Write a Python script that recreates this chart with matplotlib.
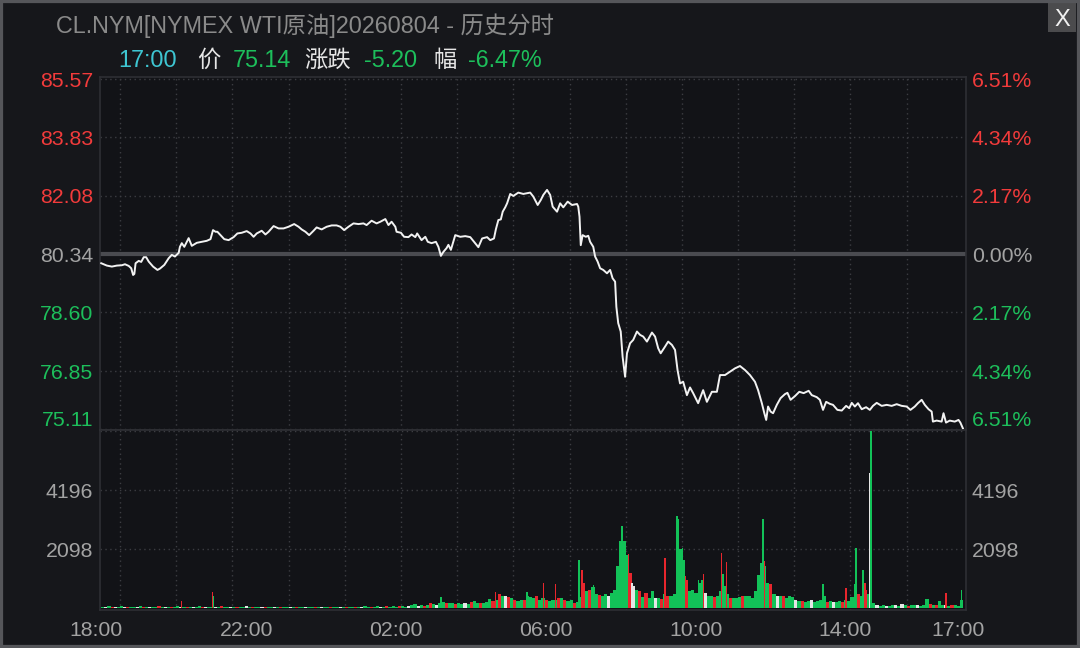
import matplotlib
matplotlib.use("Agg")
import matplotlib.pyplot as plt
import matplotlib.transforms as mtransforms
from matplotlib.patches import Rectangle

plt.rcParams['font.family'] = ['Liberation Sans', 'Noto Sans CJK SC', 'DejaVu Sans']

# ---- data: minutes after 18:00, price ----
times = [0, 9, 17, 25, 33, 38, 44, 48, 51, 53, 55, 60, 64, 68, 72, 76, 83, 90, 94, 101,
         108, 113, 118, 124, 126, 129, 133, 140, 145, 153, 161, 169, 175, 179, 183, 186, 191, 197, 204, 212,
         218, 225, 233, 239, 244, 249, 257, 263, 268, 276, 284, 292, 300, 309, 316, 321, 327, 333, 340, 345,
         353, 361, 369, 377,
         383, 389, 396, 404, 412, 420, 425, 433, 441, 447, 455, 460, 465, 471, 473, 480, 485, 492, 497, 503,
         506, 513, 519, 523, 529, 536, 540, 544, 548, 553, 556, 560, 567, 575, 583, 591, 597, 604, 610, 618,
         623, 629, 632, 636, 640, 643, 647, 650, 655, 660, 668, 676, 687, 692, 699, 704, 708, 714, 719, 723,
         730, 735, 740, 747, 754, 762, 764,
         766, 768, 771, 776, 780, 783, 788, 791, 795, 799, 804, 810, 815, 819, 823, 825, 828, 832, 835, 839,
         842, 847, 852, 858, 863, 868, 874, 882, 887, 892, 896, 903, 908, 914, 919, 923, 927, 932, 938, 943,
         948, 956, 964, 970, 978, 986, 991, 999, 1007, 1015, 1023, 1031, 1039, 1047, 1052, 1058, 1062, 1065, 1068, 1072,
         1076, 1082, 1088, 1095, 1099, 1104, 1111, 1118, 1125, 1133, 1138, 1146, 1151, 1156, 1161, 1167, 1172, 1179, 1186, 1193,
         1198, 1202, 1207, 1212, 1218, 1225, 1231, 1236, 1242, 1250, 1258, 1266, 1274, 1282, 1290, 1296, 1303, 1308, 1314, 1319,
         1325, 1330, 1332, 1338, 1346, 1349, 1353, 1359, 1367, 1373, 1376, 1380]
prices = [80.07, 80.00, 79.97, 80.00, 80.01, 80.04, 79.99, 79.92, 79.72, 79.75, 80.07, 80.14, 80.11, 80.25, 80.25, 80.12, 79.97, 79.87, 79.91, 80.02,
          80.22, 80.32, 80.27, 80.38, 80.56, 80.67, 80.56, 80.82, 80.59, 80.68, 80.71, 80.74, 80.79, 81.06, 81.01, 81.01, 80.91, 80.79, 80.76, 80.85,
          80.96, 80.98, 81.03, 80.96, 80.86, 80.96, 81.04, 80.93, 81.01, 81.18, 81.11, 81.11, 81.16, 81.24, 81.16, 81.08, 81.01, 80.91, 81.04, 81.14,
          81.08, 81.16, 81.20, 81.20,
          81.16, 81.06, 81.16, 81.26, 81.24, 81.26, 81.21, 81.34, 81.26, 81.31, 81.39, 81.21, 81.31, 81.16, 81.01, 80.98, 80.86, 80.85, 80.93, 80.85,
          80.96, 80.76, 80.86, 80.71, 80.67, 80.71, 80.56, 80.29, 80.41, 80.52, 80.62, 80.47, 80.91, 80.86, 80.88, 80.85, 80.71, 80.55, 80.81, 80.85,
          80.76, 80.81, 81.08, 81.36, 81.38, 81.61, 81.74, 81.86, 82.14, 82.08, 82.18, 82.14, 82.18, 82.06, 81.81, 81.96, 82.11, 82.26, 82.11, 81.76,
          81.61, 81.86, 81.74, 81.91, 81.81, 81.84, 81.76,
          81.46, 80.61, 80.91, 80.86, 80.89, 80.71, 80.56, 80.27, 80.12, 79.92, 79.87, 79.77, 79.87, 79.62, 79.52, 78.77, 78.28, 78.03, 77.28, 76.68,
          77.38, 77.68, 77.78, 78.03, 77.93, 77.88, 77.73, 78.00, 77.88, 77.53, 77.38, 77.58, 77.73, 77.63, 77.48, 76.88, 76.48, 76.53, 76.13, 76.36,
          76.19, 75.89, 76.28, 75.93, 76.23, 76.23, 76.73, 76.73, 76.83, 76.93, 77.00, 76.88, 76.73, 76.53, 76.28, 75.89, 75.59, 75.39, 75.79, 75.64,
          75.59, 75.84, 76.04, 76.16, 76.20, 75.99, 76.10, 76.23, 76.19, 76.26, 76.13, 76.07, 75.99, 75.69, 75.93, 75.87, 75.84, 75.69, 75.67, 75.81,
          75.74, 75.90, 75.79, 75.89, 75.71, 75.77, 75.69, 75.81, 75.90, 75.81, 75.84, 75.81, 75.86, 75.81, 75.79, 75.69, 75.79, 75.89, 75.99, 75.84,
          75.71, 75.64, 75.34, 75.37, 75.34, 75.59, 75.31, 75.37, 75.34, 75.39, 75.31, 75.14]

prev_close = 80.34
price_ticks = [85.57, 83.83, 82.08, 80.34, 78.60, 76.85, 75.11]
pct_labels = ['6.51%', '4.34%', '2.17%', '0.00%', '2.17%', '4.34%', '6.51%']
vol_ticks = [6294, 4196, 2098]

# volume in 5-minute bins (bin i starts at minute 5*i), colour code per bin
vol_bins = [60, 40, 70, 30, 50, 40, 80, 50, 30, 60, 40, 50, 70, 40, 30, 60, 50, 40, 70, 50,
            40, 60, 30, 50, 90, 40, 60, 50, 40, 30, 60, 70, 40, 50, 30, 60, 40, 50, 70, 60,
            50, 40, 60, 30, 50, 40, 70, 40, 30, 50, 60, 40, 50, 30, 40, 60, 50, 40, 30, 50,
            40, 50, 30, 60, 40, 50, 40, 30, 50, 60, 40, 30, 50, 40, 60, 50, 30, 40, 50, 40,
            50, 40, 60, 50, 70, 40, 60, 50, 80, 60, 50, 70, 60, 80, 50, 70, 90, 60, 80, 100,
            150, 80, 100, 90, 120, 200, 150, 120, 200, 220, 180, 200, 180, 150, 200, 160, 180, 150, 220, 250,
            180, 200, 200, 220, 320, 250, 300, 500, 450, 420, 400, 350, 280, 250, 280, 300, 450, 400, 380, 420,
            300, 350, 280, 250, 280, 300, 350, 350, 300, 250, 280, 200, 220, 400, 900, 600, 640, 750, 500, 480,
            450, 500, 420, 550, 640, 1500, 2300, 2400, 1900, 1250, 800, 640, 600, 400, 550, 380, 600, 350, 380, 330,
            500, 450, 420, 500, 2000, 2100, 1700, 1000, 600, 650, 550, 900, 1000, 550, 430, 450, 400, 430, 600, 800,
            500, 360, 380, 350, 400, 420, 450, 430, 380, 600, 1200, 1600, 1500, 900, 850, 500, 430, 450, 420, 380,
            450, 400, 300, 250, 250, 220, 250, 280, 220, 250, 300, 450, 230, 250, 220, 230, 250, 220, 300, 250,
            400, 700, 500, 450, 900, 500, 600, 200, 100, 80, 100, 90, 80, 100, 120, 80, 150, 100, 80, 120,
            100, 130, 90, 100, 320, 150, 100, 120, 250, 120, 100, 80, 100, 120, 80, 300]
vol_cols = ("gwgrwggwrggwgrgwggrg" "wgrggwgrgwggrwggwgrg" "gwgrggwgrggwrggwgrgg" "wgrggwggrgwggrggwgrg"
            "grgwggrggwgrgggrggwg" "gwgrgrgwggrggrggwgrg" "grgggrgrgwrgrggrgggr" "ggrgggrgrggrggrgrggr"
            "ggwggggggrwgrgrggwgr" "grgggggrgggggwggrggg" "grgggrggggggggrgwgr"  "gggwgrggwggggrgwggrg"
            "gggrgrgwgwggwggwgwgr" "ggwgggrgrggwgrgg")

# single-minute spikes drawn on top of the bins
spike_t = [128, 178, 180, 544, 632, 682, 708, 728, 765, 770, 783, 788, 831, 834, 839, 844, 850, 903, 922, 925,
           931, 936, 956, 964, 993, 996, 1001, 1057, 1060, 1062, 1156, 1193, 1206, 1209, 1220, 1226, 1231, 1233, 1353, 1378]
spike_v = [250, 570, 430, 390, 570, 570, 890, 860, 1715, 1360, 640, 820, 2400, 2930, 2300, 1930, 890, 1790, 3290, 3180,
           2140, 1140, 1000, 1215, 1965, 1215, 1645, 1600, 3180, 1680, 860, 715, 860, 2140, 1360, 640, 4810, 6294, 540, 640]
spike_c = "rrggrgrrgrrggggrwrgggrgrrgrggrgrgggrwgrg"

xtick_pos = [0, 240, 480, 720, 960, 1200, 1380]
xtick_lab = ['18:00', '22:00', '02:00', '06:00', '10:00', '14:00', '17:00']
vgrid = [30 + 90 * k for k in range(15)]

# ---- colours ----
BG = '#16171b'
PANEL = '#121317'
FRAME = '#2e2f34'
GRID = '#3c3d42'
RED = '#f23b3b'
GREEN = '#1dbf5b'
GRAY = '#a3a3a3'
cmap = {'g': '#12c258', 'r': '#e8262d', 'w': '#e6e6e6'}

W, H = 1080, 648
fig = plt.figure(figsize=(10.8, 6.48), dpi=100, facecolor=BG)


def fx(px):
    return px / W


def fy(py):
    return 1 - py / H


ax = fig.add_axes([fx(100), fy(430), fx(966) - fx(100), fy(77) - fy(430)])
axv = fig.add_axes([fx(100), fy(610), fx(966) - fx(100), fy(430) - fy(610)])

for a in (ax, axv):
    a.set_facecolor(PANEL)
    a.set_xlim(-2, 1385)
    a.set_xticks([])
    a.set_yticks([])
    for s in a.spines.values():
        s.set_color(FRAME)
        s.set_linewidth(1.2)
    for v in vgrid:
        a.axvline(v, color=GRID, lw=1.0, ls=(0, (1, 2.5)), zorder=1)

ax.set_ylim(75.089, 85.633)
axv.set_ylim(-60, 6330)

for p in price_ticks:
    if p == prev_close:
        ax.axhline(p, color='#4a4b50', lw=3, zorder=1.5)
    else:
        ax.axhline(p, color=GRID, lw=1.0, ls=(0, (1, 2.5)), zorder=1)
for v in vol_ticks:
    axv.axhline(v, color=GRID, lw=1.0, ls=(0, (1, 2.5)), zorder=1)

ax.plot(times, prices, color='#f2f2f2', lw=1.4, zorder=3, solid_joinstyle='round')

bin_x = [5 * i for i in range(len(vol_bins))]
axv.bar(bin_x, vol_bins, width=5, align='edge', color=[cmap[c] for c in vol_cols], linewidth=0, zorder=2)
axv.bar(spike_t, spike_v, width=2.0, color=[cmap[c] for c in spike_c], linewidth=0, zorder=3)

# ---- axis labels ----
lab_fs = 15.3
off_l = mtransforms.ScaledTranslation(-0.07, 0, fig.dpi_scale_trans)
off_r = mtransforms.ScaledTranslation(0.06, 0, fig.dpi_scale_trans)
lift = mtransforms.ScaledTranslation(0, 0.11, fig.dpi_scale_trans)
for p, pl in zip(price_ticks, pct_labels):
    col = RED if p > prev_close else (GREEN if p < prev_close else GRAY)
    extra = lift if p == price_ticks[-1] else mtransforms.Affine2D()
    ax.text(0, p, f'{p:.2f}', transform=ax.get_yaxis_transform() + off_l + extra,
            ha='right', va='center_baseline', fontsize=lab_fs, color=col)
    ax.text(1, p, pl, transform=ax.get_yaxis_transform() + off_r + extra,
            ha='left', va='center_baseline', fontsize=lab_fs, color=col)
for v in vol_ticks[1:]:
    axv.text(0, v, str(v), transform=axv.get_yaxis_transform() + off_l,
             ha='right', va='center_baseline', fontsize=lab_fs, color=GRAY)
    axv.text(1, v, str(v), transform=axv.get_yaxis_transform() + off_r,
             ha='left', va='center_baseline', fontsize=lab_fs, color=GRAY)

off_x = mtransforms.ScaledTranslation(-0.05, 0, fig.dpi_scale_trans)
for t, lab in zip(xtick_pos, xtick_lab):
    axv.text(t, -0.1, lab, transform=axv.get_xaxis_transform() + off_x,
             ha='center', va='center_baseline', fontsize=lab_fs, color=GRAY)

# ---- header ----
fig.text(fx(305), fy(23), 'CL.NYM[NYMEX WTI原油]20260804 - 历史分时', ha='center',
         va='center_baseline', fontsize=16.8, color='#8a8a8a')
row = [(118, '17:00', '#3ec6d2'), (197, '价', '#e6e6e6'), (233, '75.14', GREEN),
       (304, '涨跌', '#e6e6e6'), (364, '-5.20', GREEN), (433, '幅', '#e6e6e6'), (468, '-6.47%', GREEN)]
for x, s, c in row:
    fig.text(fx(x), fy(58), s, ha='left', va='center_baseline', fontsize=16.8, color=c)

# close button and window border
fig.patches.append(Rectangle((fx(1048), fy(32)), fx(1076) - fx(1048), fy(3) - fy(32),
                             transform=fig.transFigure, facecolor='#4b4b4d', edgecolor='none'))
fig.text(fx(1062), fy(18), 'X', ha='center', va='center_baseline', fontsize=17, color='#f0f0f0')
fig.patches.append(Rectangle((0, 0), 1, 1, transform=fig.transFigure, fill=False,
                             edgecolor='#55565a', linewidth=4.5))

fig.savefig('out.png', dpi=100, facecolor=BG)
